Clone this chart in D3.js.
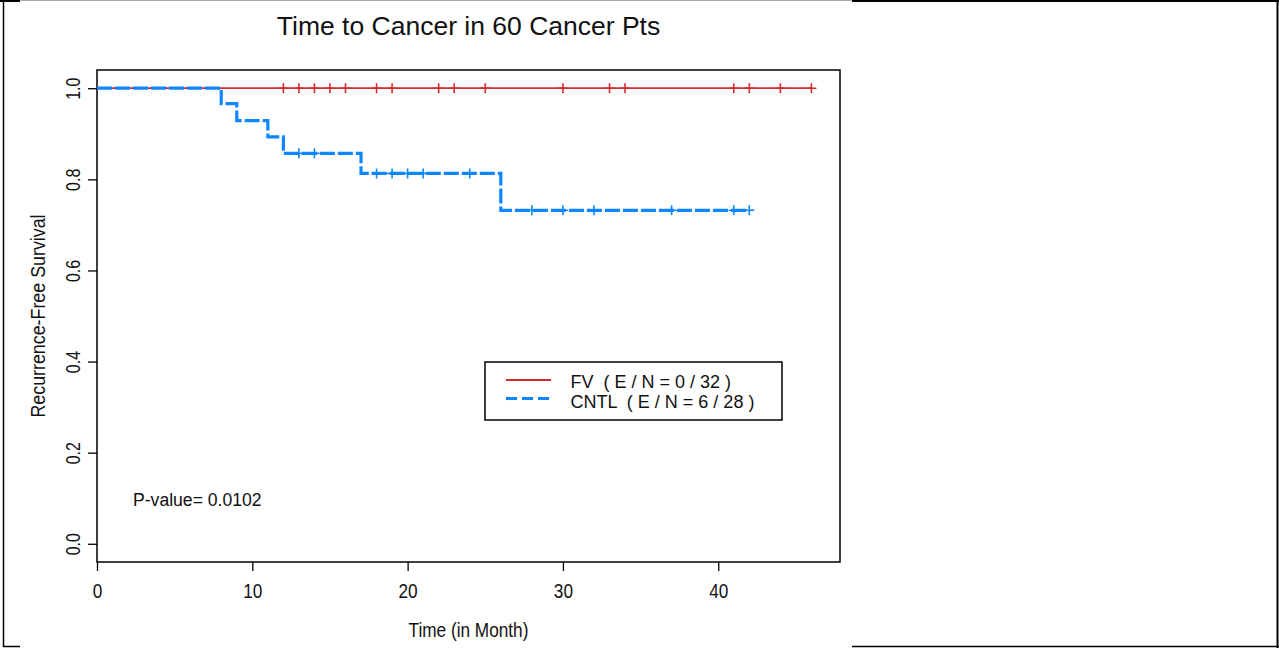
<!DOCTYPE html>
<html>
<head>
<meta charset="utf-8">
<script src="https://cdn.jsdelivr.net/npm/d3@7"></script>
<style>
  body { margin: 0; background: #fff; }
  svg { display: block; font-family: "Liberation Sans", Arial, sans-serif; }
</style>
</head>
<body>
<script>
// FV group: no events, only censored follow-up
const fvTimes = [0, 46]
const fvSurv = [1, 1]
const fvCensor = [12, 13, 14, 15, 16, 18, 19, 22, 23, 25, 30, 33, 34, 41, 42, 44, 46]

// CNTL group: step curve
const cntlTimes = [0, 8, 9, 11, 12, 17, 26, 42]
const cntlSurv = [1, 0.966, 0.929, 0.893, 0.857, 0.813, 0.732, 0.732]
const cntlCensor = [13, 14, 18, 19, 20, 21, 24, 28, 30, 32, 37, 41, 42]

const xTicks = [0, 10, 20, 30, 40]
const yTicks = [0, 0.2, 0.4, 0.6, 0.8, 1.0]
const legendLabels = ["FV  ( E / N = 0 / 32 )", "CNTL  ( E / N = 6 / 28 )"]

const W = 1279, H = 648
const box = {left: 97, right: 840, top: 70, bottom: 562}
const red = "#d42a2a", blue = "#0d86ff"

const svg = d3.select("body").append("svg").attr("width", W).attr("height", H)

// outer frame of the composite picture
const frame = svg.append("g").attr("fill", "none")
frame.append("path").attr("d", "M3.5,0V646.5H20").attr("stroke", "#000").attr("stroke-width", 1.5)
frame.append("line").attr("x1", 0).attr("x2", 20).attr("y1", 1).attr("y2", 1).attr("stroke", "#000").attr("stroke-width", 2)
frame.append("line").attr("x1", 20).attr("x2", 852).attr("y1", 0.5).attr("y2", 0.5).attr("stroke", "#aaa").attr("stroke-width", 1)
frame.append("line").attr("x1", 852).attr("x2", W).attr("y1", 1).attr("y2", 1).attr("stroke", "#000").attr("stroke-width", 2)
frame.append("line").attr("x1", 1277.5).attr("x2", 1277.5).attr("y1", 0).attr("y2", H).attr("stroke", "#000").attr("stroke-width", 2)
frame.append("line").attr("x1", 852).attr("x2", W).attr("y1", 646.5).attr("y2", 646.5).attr("stroke", "#000").attr("stroke-width", 1.5)

const x = d3.scaleLinear().domain([0, 47.84]).range([box.left, box.right])
const y = d3.scaleLinear().domain([-0.04, 1.04]).range([box.bottom, box.top])

// axes
const xAxis = svg.append("g")
    .attr("transform", `translate(0,${box.bottom})`)
    .call(d3.axisBottom(x).tickValues(xTicks).tickSize(9).tickSizeOuter(0).tickFormat(d3.format("d")))
xAxis.select(".domain").remove()
xAxis.selectAll("line").attr("stroke", "#000").attr("stroke-width", 1.3)
xAxis.selectAll("text")
    .attr("y", null).attr("dy", null)
    .attr("transform", "translate(0,36) scale(0.82,1)")
    .attr("font-size", 21).attr("fill", "#111")
    .attr("font-family", null)

const yAxis = svg.append("g")
    .attr("transform", `translate(${box.left},0)`)
    .call(d3.axisLeft(y).tickValues(yTicks).tickSize(9).tickSizeOuter(0).tickFormat(d3.format(".1f")))
yAxis.select(".domain").remove()
yAxis.selectAll("line").attr("stroke", "#000").attr("stroke-width", 1.3)
yAxis.selectAll("text")
    .attr("x", null).attr("dy", null)
    .attr("text-anchor", "middle")
    .attr("transform", "translate(-17,0) rotate(-90) scale(0.76,1)")
    .attr("font-size", 21).attr("fill", "#111")
    .attr("font-family", null)

// plot box
svg.append("rect")
    .attr("x", box.left).attr("y", box.top)
    .attr("width", box.right - box.left).attr("height", box.bottom - box.top)
    .attr("fill", "none").attr("stroke", "#000").attr("stroke-width", 1.5)

// curves
const line = d3.line().x(d => x(d[0])).y(d => y(d[1])).curve(d3.curveStepAfter)
const stepAt = (times, surv, t) => surv[d3.bisectRight(times, t) - 1]

const drawGroup = (times, surv, censor, color, width, dash) => {
    const g = svg.append("g")
    g.append("path")
        .datum(times.map((t, i) => [t, surv[i]]))
        .attr("d", line)
        .attr("fill", "none")
        .attr("stroke", color)
        .attr("stroke-width", width)
        .attr("stroke-dasharray", dash)
    g.selectAll("path.censor")
        .data(censor)
        .enter()
        .append("path")
        .attr("class", "censor")
        .attr("d", t => {
            const cx = x(t), cy = y(stepAt(times, surv, t))
            return `M${cx - 5},${cy}H${cx + 5}M${cx},${cy - 5}V${cy + 5}`
        })
        .attr("fill", "none")
        .attr("stroke", color)
        .attr("stroke-width", 1.6)
}

drawGroup(fvTimes, fvSurv, fvCensor, red, 1.8, null)
drawGroup(cntlTimes, cntlSurv, cntlCensor, blue, 3.2, "15,3")

// titles
svg.append("text")
    .attr("transform", "translate(468.5,35)")
    .attr("text-anchor", "middle")
    .attr("font-size", 26.5).attr("fill", "#111")
    .text("Time to Cancer in 60 Cancer Pts")

svg.append("text")
    .attr("transform", "translate(468.5,636.5) scale(0.82,1)")
    .attr("text-anchor", "middle")
    .attr("font-size", 21).attr("fill", "#111")
    .text("Time (in Month)")

svg.append("text")
    .attr("transform", "translate(45,316) rotate(-90) scale(0.85,1)")
    .attr("text-anchor", "middle")
    .attr("font-size", 21).attr("fill", "#111")
    .text("Recurrence-Free Survival")

svg.append("text")
    .attr("x", 133).attr("y", 506)
    .attr("font-size", 17.6).attr("fill", "#111")
    .text("P-value= 0.0102")

// legend
const legend = svg.append("g")
legend.append("rect")
    .attr("x", 485).attr("y", 362).attr("width", 297).attr("height", 58)
    .attr("fill", "#fff").attr("stroke", "#000").attr("stroke-width", 1.5)
const legendItems = [
    {label: legendLabels[0], color: red, width: 1.8, dash: null, ly: 380, ty: 388.3},
    {label: legendLabels[1], color: blue, width: 3.2, dash: "11,5", ly: 398.5, ty: 407.7}
]
legendItems.forEach(d => {
    legend.append("line")
        .attr("x1", 506).attr("x2", 551).attr("y1", d.ly).attr("y2", d.ly)
        .attr("stroke", d.color).attr("stroke-width", d.width)
        .attr("stroke-dasharray", d.dash)
    legend.append("text")
        .attr("x", 570.5).attr("y", d.ty)
        .attr("font-size", 18).attr("fill", "#111")
        .style("white-space", "pre")
        .text(d.label)
})
</script>
</body>
</html>
